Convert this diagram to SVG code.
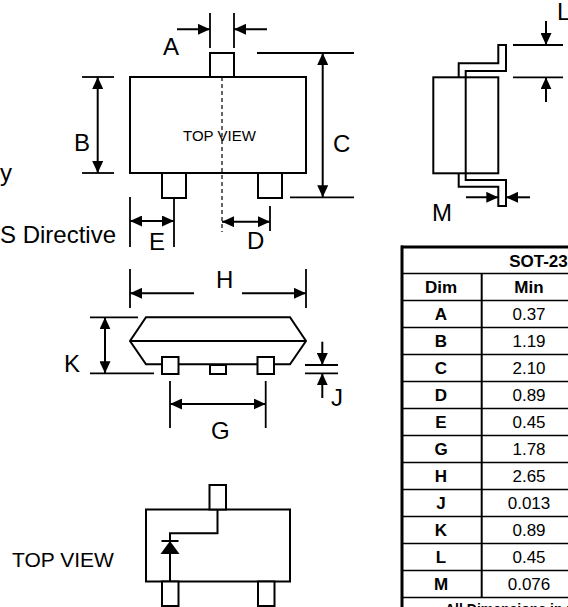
<svg xmlns="http://www.w3.org/2000/svg" width="568" height="607" viewBox="0 0 568 607">
<defs>
<marker id="ah" viewBox="0 0 12 11" refX="12" refY="5.5" markerWidth="12" markerHeight="11" markerUnits="userSpaceOnUse" orient="auto-start-reverse"><path d="M0,0 L12,5.5 L0,11 z" fill="#000"/></marker>
</defs>
<style>
.o{fill:#fff;stroke:#000;stroke-width:2}
.n{fill:none;stroke:#000;stroke-width:2}
.x{fill:none;stroke:#000;stroke-width:1.8}
.a{fill:none;stroke:#000;stroke-width:2;marker-end:url(#ah)}
.d{fill:none;stroke:#000;stroke-width:2;marker-start:url(#ah);marker-end:url(#ah)}
.lb{font-family:"Liberation Sans",Arial,sans-serif;font-size:24px;fill:#000}
.sm{font-family:"Liberation Sans",Arial,sans-serif;font-size:15px;fill:#000}
.tv{font-family:"Liberation Sans",Arial,sans-serif;font-size:21px;fill:#000}
.th{font-family:"Liberation Sans",Arial,sans-serif;font-size:17px;font-weight:bold;fill:#000;text-anchor:middle}
.tb{font-family:"Liberation Sans",Arial,sans-serif;font-size:17px;fill:#000;text-anchor:middle}
.tl{fill:none;stroke:#000;stroke-width:1.5}
</style>

<text class="lb" x="0" y="181">y</text>
<text class="lb" x="0" y="243">S Directive</text>

<g id="top-view">
<rect class="o" x="130" y="77" width="176" height="96"/>
<rect class="o" x="210" y="53" width="24" height="24"/>
<rect class="o" x="162" y="173" width="24" height="25"/>
<rect class="o" x="258" y="173" width="24" height="25"/>
<line x1="222" y1="77" x2="222" y2="232" stroke="#000" stroke-width="1.2" stroke-dasharray="4,3"/>
<text class="sm" x="183" y="141">TOP VIEW</text>
</g>

<g id="side-view">
<rect class="o" x="433.3" y="77.3" width="65" height="96"/>
<path class="n" d="M458.7,77.3 V63.3 H498.3 V45 H506 V71 H465.7 V180 H506 V206 H498.3 V186.7 H458.7 V173.3"/>
</g>

<g id="end-view">
<path class="o" d="M146,317.3 H290 L306,341 L290,364.3 H146 L130,341 Z"/>
<line class="n" x1="130" y1="341" x2="306" y2="341"/>
<rect class="o" x="162" y="357" width="16.5" height="17"/>
<rect class="o" x="257.5" y="357" width="16.5" height="17"/>
<rect class="o" x="210" y="365" width="16" height="9"/>
</g>

<g id="schematic">
<rect class="o" x="146" y="509.5" width="144" height="72"/>
<rect class="o" x="209.5" y="485" width="16.5" height="24.5"/>
<rect class="o" x="162" y="581.5" width="16.5" height="24.5"/>
<rect class="o" x="258" y="581.5" width="16.5" height="24.5"/>
<path class="n" d="M217.5,509.5 V533.3 H170 V581.5"/>
<path d="M160.5,554 H179.5 L170,541 Z" fill="#000"/>
<line class="n" x1="161.5" y1="541" x2="178.5" y2="541"/>
<text class="tv" x="12" y="566.5">TOP VIEW</text>
</g>

<g id="dimensions">
<line class="x" x1="210" y1="13" x2="210" y2="48"/>
<line class="x" x1="234" y1="13" x2="234" y2="48"/>
<line class="a" x1="177" y1="29.3" x2="210" y2="29.3"/>
<line class="a" x1="267" y1="29.3" x2="234" y2="29.3"/>

<line class="x" x1="82" y1="77" x2="114" y2="77"/>
<line class="x" x1="82" y1="173" x2="114" y2="173"/>
<line class="d" x1="97.7" y1="77" x2="97.7" y2="173"/>

<line class="x" x1="257" y1="53" x2="354" y2="53"/>
<line class="x" x1="290" y1="197.3" x2="354" y2="197.3"/>
<line class="d" x1="322.7" y1="53" x2="322.7" y2="197.3"/>

<line class="x" x1="270" y1="206" x2="270" y2="231"/>
<line class="d" x1="222" y1="221.7" x2="270" y2="221.7"/>

<line class="x" x1="130" y1="197" x2="130" y2="247"/>
<line class="x" x1="174" y1="198" x2="174" y2="247"/>
<line class="d" x1="130" y1="221" x2="174" y2="221"/>

<line class="x" x1="513" y1="45" x2="563" y2="45"/>
<line class="x" x1="513" y1="77.3" x2="563" y2="77.3"/>
<line class="a" x1="546" y1="21" x2="546" y2="45"/>
<line class="a" x1="546" y1="102" x2="546" y2="77.3"/>

<line class="a" x1="466" y1="197.3" x2="498.3" y2="197.3"/>
<line class="a" x1="530" y1="197.3" x2="506" y2="197.3"/>

<line class="x" x1="130" y1="269" x2="130" y2="308"/>
<line class="x" x1="306" y1="269" x2="306" y2="308"/>
<line class="a" x1="194" y1="293.3" x2="130" y2="293.3"/>
<line class="a" x1="242" y1="293.3" x2="306" y2="293.3"/>

<line class="x" x1="90" y1="317.3" x2="138" y2="317.3"/>
<line class="x" x1="90" y1="373.3" x2="154" y2="373.3"/>
<line class="d" x1="105" y1="317.3" x2="105" y2="373.3"/>

<line class="x" x1="305" y1="365" x2="338" y2="365"/>
<line class="x" x1="305" y1="373.3" x2="338" y2="373.3"/>
<line class="a" x1="322.3" y1="341.7" x2="322.3" y2="365"/>
<line class="a" x1="322.3" y1="398" x2="322.3" y2="373.3"/>

<line class="x" x1="170" y1="381" x2="170" y2="428"/>
<line class="x" x1="265.7" y1="381" x2="265.7" y2="428"/>
<line class="d" x1="170" y1="404" x2="265.7" y2="404"/>

<text class="lb" x="163" y="55">A</text>
<text class="lb" x="74" y="151">B</text>
<text class="lb" x="333" y="152">C</text>
<text class="lb" x="247" y="249">D</text>
<text class="lb" x="149" y="250">E</text>
<text class="lb" x="216" y="288">H</text>
<text class="lb" x="64" y="372">K</text>
<text class="lb" x="331" y="406">J</text>
<text class="lb" x="211" y="439">G</text>
<text class="lb" x="557" y="20">L</text>
<text class="lb" x="432" y="221">M</text>
</g>

<g id="table">
<line x1="401" y1="247" x2="568" y2="247" stroke="#000" stroke-width="3"/>
<line x1="402" y1="245.5" x2="402" y2="607" stroke="#000" stroke-width="3"/>
<line class="tl" x1="402" y1="273.5" x2="568" y2="273.5"/>
<line class="tl" x1="402" y1="300.5" x2="568" y2="300.5"/>
<line class="tl" x1="402" y1="327.5" x2="568" y2="327.5"/>
<line class="tl" x1="402" y1="354.5" x2="568" y2="354.5"/>
<line class="tl" x1="402" y1="381.5" x2="568" y2="381.5"/>
<line class="tl" x1="402" y1="408.5" x2="568" y2="408.5"/>
<line class="tl" x1="402" y1="435.5" x2="568" y2="435.5"/>
<line class="tl" x1="402" y1="462.5" x2="568" y2="462.5"/>
<line class="tl" x1="402" y1="489.5" x2="568" y2="489.5"/>
<line class="tl" x1="402" y1="516.5" x2="568" y2="516.5"/>
<line class="tl" x1="402" y1="543.5" x2="568" y2="543.5"/>
<line class="tl" x1="402" y1="570.5" x2="568" y2="570.5"/>
<line class="tl" x1="402" y1="597.5" x2="568" y2="597.5"/>
<line x1="481.7" y1="273.5" x2="481.7" y2="597.5" stroke="#000" stroke-width="2"/>
<text class="th" x="538.5" y="267">SOT-23</text>
<text class="th" x="441" y="293">Dim</text>
<text class="th" x="529" y="293">Min</text>
<text class="th" x="441" y="320">A</text><text class="tb" x="529" y="320">0.37</text>
<text class="th" x="441" y="347">B</text><text class="tb" x="529" y="347">1.19</text>
<text class="th" x="441" y="374">C</text><text class="tb" x="529" y="374">2.10</text>
<text class="th" x="441" y="401">D</text><text class="tb" x="529" y="401">0.89</text>
<text class="th" x="441" y="428">E</text><text class="tb" x="529" y="428">0.45</text>
<text class="th" x="441" y="455">G</text><text class="tb" x="529" y="455">1.78</text>
<text class="th" x="441" y="482">H</text><text class="tb" x="529" y="482">2.65</text>
<text class="th" x="441" y="509">J</text><text class="tb" x="529" y="509">0.013</text>
<text class="th" x="441" y="536">K</text><text class="tb" x="529" y="536">0.89</text>
<text class="th" x="441" y="563">L</text><text class="tb" x="529" y="563">0.45</text>
<text class="th" x="441" y="590">M</text><text class="tb" x="529" y="590">0.076</text>
<text x="445" y="614" font-family="Liberation Sans,Arial,sans-serif" font-size="14" font-weight="bold" fill="#000">All Dimensions in mm</text>
</g>
</svg>
